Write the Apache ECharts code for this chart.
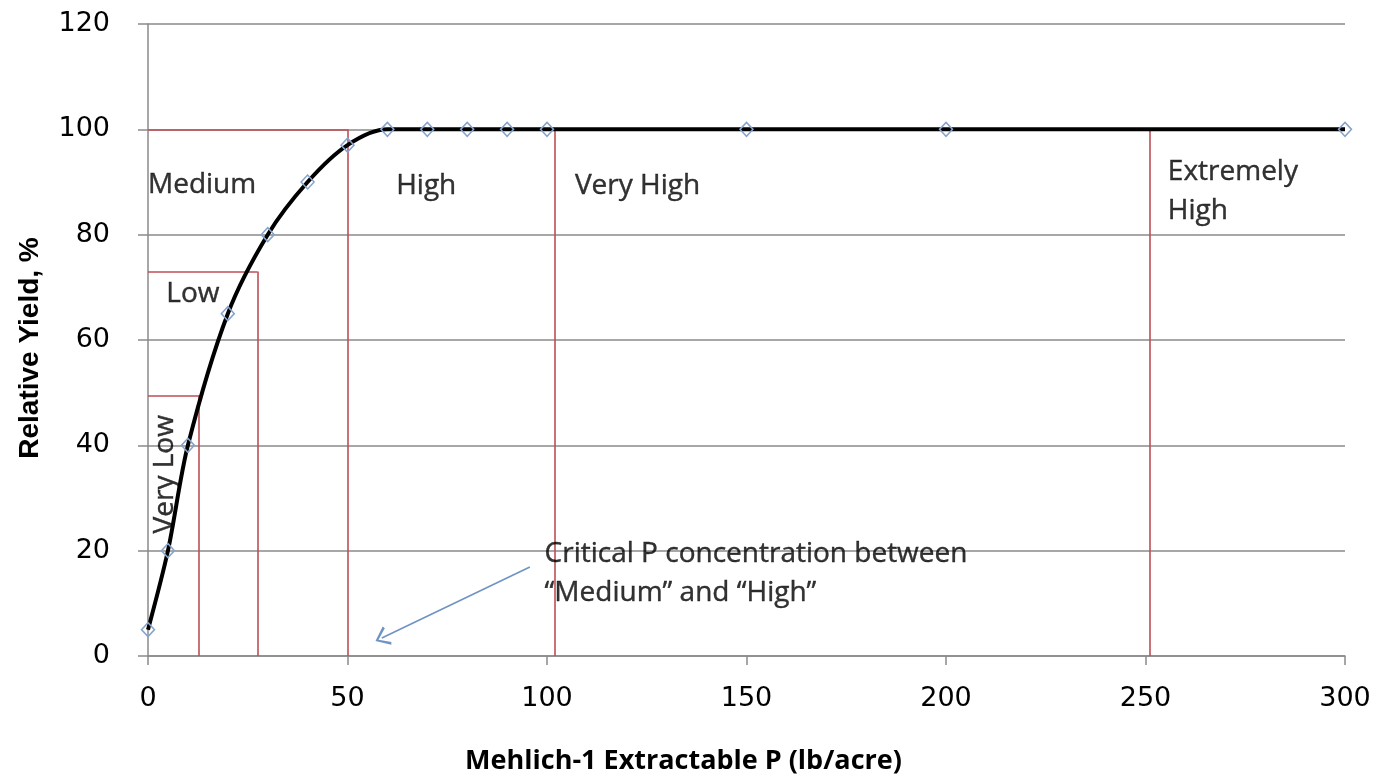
<!DOCTYPE html>
<html>
<head>
<meta charset="utf-8">
<script src="https://cdn.jsdelivr.net/npm/echarts@6/dist/echarts.min.js"></script>
<style>
html,body{margin:0;padding:0;background:#fff;}
#chart{width:1388px;height:783px;}
</style>
</head>
<body>
<div id="chart"></div>
<script>
// ---- data ----
const pLevels = [0, 5, 10, 20, 30, 40, 50, 60, 70, 80, 90, 100, 150, 200, 300];
const relYield = [5, 20, 40, 65, 80, 90, 97, 100, 100, 100, 100, 100, 100, 100, 100];
const xTicks = [0, 50, 100, 150, 200, 250, 300];
const yTicks = [0, 20, 40, 60, 80, 100, 120];
// category boundaries (x) and heights of their red lines (y)
const boundaryX = [12.8, 27.4, 50, 102, 251];
const boundaryTop = [49.5, 73, 100, 100, 100];
const boxedCount = 3; // first three boundaries also get a horizontal line
// text annotations
const labelText = ['Medium', 'Low', 'Very Low', 'High', 'Very High', 'Extremely\nHigh', 'Critical P concentration between\n\u201CMedium\u201D and \u201CHigh\u201D'];
const labelX = [0, 4.6, 4.2, 62.2, 107, 255.6, 99.4];
const labelY = [89.5, 68.8, 34.5, 89.2, 89.2, 88.1, 15.7];
// arrow from/to
const arrowFrom = [95.7, 16.9];
const arrowTo = [58.6, 3.4];

const red = '#bc4f57';
const grey = '#8a8a8a';
const textFont = "'Open Sans', 'Noto Sans', sans-serif";

const redLines = [];
boundaryX.forEach((bx, i) => {
  redLines.push([{ coord: [bx, 0] }, { coord: [bx, boundaryTop[i]] }]);
  if (i < boxedCount) {
    redLines.push([{ coord: [0, boundaryTop[i]] }, { coord: [bx, boundaryTop[i]] }]);
  }
});

const labelData = labelText.map((t, i) => {
  const d = { name: t, value: [labelX[i], labelY[i]] };
  if (t === 'Very Low') {
    d.label = { rotate: 90, position: 'inside', align: 'center', verticalAlign: 'middle' };
  }
  return d;
});

const chart = echarts.init(document.getElementById('chart'), null, { renderer: 'canvas' });
chart.setOption({
  animation: false,
  backgroundColor: '#ffffff',
  grid: { left: 148, right: 43, top: 24, bottom: 127, containLabel: false },
  xAxis: {
    type: 'value', min: xTicks[0], max: xTicks[xTicks.length - 1], interval: 50,
    name: 'Mehlich-1 Extractable P (lb/acre)',
    nameLocation: 'middle', nameGap: 92,
    nameTextStyle: { fontFamily: textFont, fontWeight: 'bold', fontSize: 27, color: '#000', padding: [0, 126, 0, 0] },
    axisLine: { show: true, lineStyle: { color: grey, width: 1.5 } },
    axisTick: { show: true, length: 9, lineStyle: { color: grey, width: 1.5 } },
    axisLabel: { margin: 29, fontFamily: "'DejaVu Sans', sans-serif", fontSize: 27, color: '#000' },
    splitLine: { show: false }
  },
  yAxis: {
    type: 'value', min: yTicks[0], max: yTicks[yTicks.length - 1], interval: 20,
    name: 'Relative Yield, %',
    nameLocation: 'middle', nameGap: 104,
    nameTextStyle: { fontFamily: "'Liberation Sans Narrow', 'Liberation Sans', sans-serif", fontWeight: 'bold', fontSize: 28, color: '#000', padding: [0, 16, 0, 0] },
    axisLine: { show: true, lineStyle: { color: grey, width: 1.5 } },
    axisTick: { show: true, length: 10, lineStyle: { color: grey, width: 1.5 } },
    axisLabel: { margin: 38, fontFamily: "'DejaVu Sans', sans-serif", fontSize: 27, color: '#000' },
    splitLine: { show: true, lineStyle: { color: grey, width: 1.5 } }
  },
  series: [
    {
      type: 'line',
      name: 'boundaries',
      data: [],
      silent: true,
      z: 2,
      markLine: {
        silent: true,
        symbol: ['none', 'none'],
        label: { show: false },
        lineStyle: { color: red, width: 1.6, type: 'solid' },
        data: redLines
      }
    },
    {
      type: 'line',
      name: 'arrow',
      data: [],
      silent: true,
      z: 2,
      markLine: {
        silent: true,
        symbol: ['none', 'path://M5,0 L10,10 L8.8,11 L5,2.6 L1.2,11 L0,10 Z'],
        symbolSize: [20, 14],
        label: { show: false },
        lineStyle: { color: '#6f93c4', width: 1.6, type: 'solid' },
        data: [[{ coord: arrowFrom }, { coord: arrowTo }]]
      }
    },
    {
      type: 'line',
      name: 'Relative yield',
      data: pLevels.map((x, i) => [x, relYield[i]]),
      smooth: 0.3,
      showAllSymbol: true,
      symbol: 'diamond',
      symbolSize: [13, 14],
      lineStyle: { color: '#000', width: 4 },
      itemStyle: { color: 'rgba(255,255,255,0)', borderColor: '#86a3cc', borderWidth: 1.5 },
      z: 5
    },
    {
      type: 'scatter',
      name: 'labels',
      data: labelData,
      symbolSize: 0,
      silent: true,
      z: 6,
      label: {
        show: true,
        formatter: '{b}',
        position: 'right',
        distance: 0,
        align: 'left',
        fontFamily: textFont,
        fontSize: 28,
        lineHeight: 39,
        color: '#000',
        textBorderColor: '#000',
        textBorderWidth: 0.4
      }
    }
  ]
});
</script>
</body>
</html>
